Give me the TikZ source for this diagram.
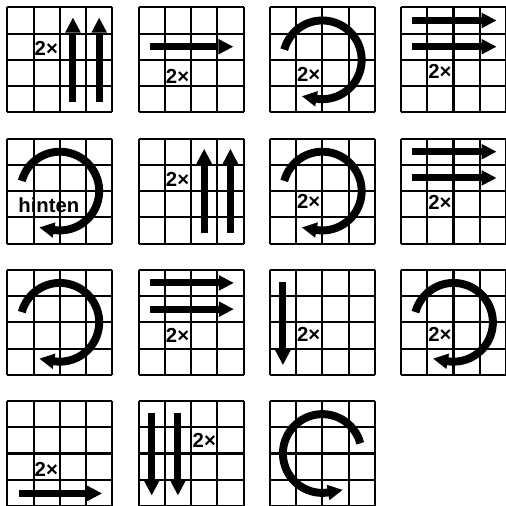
\documentclass[tikz,border=0pt]{standalone}
\usepackage{fontspec}
\setmainfont{Liberation Sans}
\usetikzlibrary{arrows.meta}

\begin{document}
\begin{tikzpicture}[x=5mm,y=5mm,font=\fontsize{11}{13}\selectfont\bfseries,
  g/.style={line width=1.1pt,step=1},
  ar/.style={-{Triangle[length=8pt,width=8.5pt,line width=0pt]},line width=3.8pt},
  rot/.style={ar,line width=4.3pt},
  lb/.style={inner sep=0pt,anchor=west}]
  \useasboundingbox (-0.28,-19) rectangle (19,0.28);
  % row 1
  \begin{scope}[shift={(0,-4)}]
    \draw[g](0,0) grid (4,4);
    \draw[ar](2.5,0.4)--(2.5,3.6);\draw[ar](3.5,0.4)--(3.5,3.6);
    \node[lb](l1) at (1.03,2.42){2×};
  \end{scope}
  \begin{scope}[shift={(5,-4)}]
    \draw[g](0,0) grid (4,4);
    \draw[ar](0.45,2.5)--(3.6,2.5);
    \node[lb](l2) at (1.03,1.38){2×};
  \end{scope}
  \begin{scope}[shift={(10,-4)}]
    \draw[g](0,0) grid (4,4);
    \draw[rot](2,2) ++(165:1.5) arc[start angle=165,end angle=-100,radius=1.5] -- ++(170:0.52);
    \node[lb](l3) at (1.03,1.45){2×};
  \end{scope}
  \begin{scope}[shift={(15,-4)}]
    \draw[g](0,0) grid (4,4);
    \draw[ar](0.43,3.5)--(3.63,3.5);\draw[ar](0.43,2.5)--(3.63,2.5);
    \node[lb](l4) at (1.03,1.57){2×};
  \end{scope}
  % row 2
  \begin{scope}[shift={(0,-9)}]
    \draw[g](0,0) grid (4,4);
    \draw[rot](2,2) ++(165:1.5) arc[start angle=165,end angle=-100,radius=1.5] -- ++(170:0.52);
    \node[inner sep=0pt](hin) at (1.58,1.46){hinten};
  \end{scope}
  \begin{scope}[shift={(5,-9)}]
    \draw[g](0,0) grid (4,4);
    \draw[ar](2.5,0.4)--(2.5,3.6);\draw[ar](3.5,0.4)--(3.5,3.6);
    \node[lb](l5) at (1.03,2.44){2×};
  \end{scope}
  \begin{scope}[shift={(10,-9)}]
    \draw[g](0,0) grid (4,4);
    \draw[rot](2,2) ++(165:1.5) arc[start angle=165,end angle=-100,radius=1.5] -- ++(170:0.52);
    \node[lb](l6) at (1.03,1.6){2×};
  \end{scope}
  \begin{scope}[shift={(15,-9)}]
    \draw[g](0,0) grid (4,4);
    \draw[ar](0.43,3.5)--(3.63,3.5);\draw[ar](0.43,2.5)--(3.63,2.5);
    \node[lb](l7) at (1.03,1.55){2×};
  \end{scope}
  % row 3
  \begin{scope}[shift={(0,-14)}]
    \draw[g](0,0) grid (4,4);
    \draw[rot](2,2) ++(165:1.5) arc[start angle=165,end angle=-100,radius=1.5] -- ++(170:0.52);
  \end{scope}
  \begin{scope}[shift={(5,-14)}]
    \draw[g](0,0) grid (4,4);
    \draw[ar](0.45,3.5)--(3.62,3.5);\draw[ar](0.45,2.5)--(3.62,2.5);
    \node[lb](l8) at (1.03,1.5){2×};
  \end{scope}
  \begin{scope}[shift={(10,-14)}]
    \draw[g](0,0) grid (4,4);
    \draw[ar](0.5,3.55)--(0.5,0.38);
    \node[lb](l9) at (1.03,1.55){2×};
  \end{scope}
  \begin{scope}[shift={(15,-14)}]
    \draw[g](0,0) grid (4,4);
    \draw[rot](2,2) ++(165:1.5) arc[start angle=165,end angle=-100,radius=1.5] -- ++(170:0.52);
    \node[lb](l10) at (1.03,1.55){2×};
  \end{scope}
  % row 4
  \begin{scope}[shift={(0,-19)}]
    \draw[g](0,0) grid (4,4);
    \draw[ar](0.46,0.48)--(3.6,0.48);
    \node[lb](l11) at (1.03,1.4){2×};
  \end{scope}
  \begin{scope}[shift={(5,-19)}]
    \draw[g](0,0) grid (4,4);
    \draw[ar](0.5,3.56)--(0.5,0.41);\draw[ar](1.5,3.56)--(1.5,0.41);
    \node[lb](l12) at (2.05,2.5){2×};
  \end{scope}
  \begin{scope}[shift={(10,-19)}]
    \draw[g](0,0) grid (4,4);
    \draw[rot](2,2) ++(15:1.5) arc[start angle=15,end angle=280,radius=1.5] -- ++(10:0.52);
  \end{scope}
\end{tikzpicture}
\end{document}
